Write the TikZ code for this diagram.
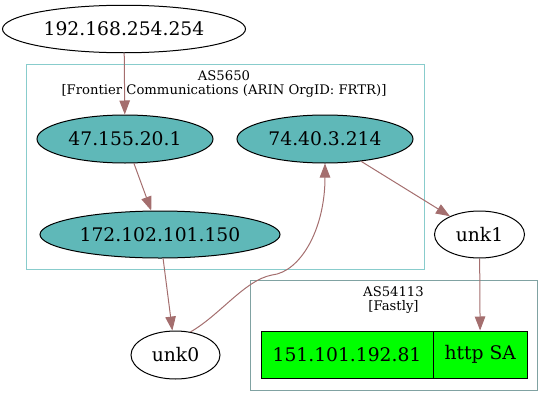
\documentclass[tikz,border=0pt]{standalone}
\usepackage{fontspec}
\setmainfont{DejaVu Serif}
\usetikzlibrary{shapes.geometric,arrows.meta}
\definecolor{edgec}{RGB}{164,110,110}
\definecolor{tealfill}{RGB}{95,184,184}
\definecolor{clusterA}{RGB}{136,204,204}
\definecolor{clusterB}{RGB}{128,162,162}
\definecolor{recgreen}{RGB}{0,255,0}
\tikzset{
  gnode/.style={ellipse,draw=black,line width=1pt,inner sep=0pt,font=\fontsize{18.7}{22}\selectfont},
  asnode/.style={gnode,fill=tealfill},
  recpart/.style={rectangle,draw=black,line width=1pt,fill=recgreen,inner sep=0pt,font=\fontsize{18.7}{22}\selectfont},
  clabel/.style={inner sep=0pt,font=\fontsize{13.2}{15}\selectfont},
  edge/.style={draw=edgec,line width=1pt,-{Triangle[length=14pt,width=10.5pt]}},
}
\begin{document}
\begin{tikzpicture}[x=1pt,y=-1pt]
\useasboundingbox (0,0) rectangle (554,407);
% clusters
\draw[clusterA,line width=1pt] (26.4,64) rectangle (424,269);
\draw[clusterB,line width=1pt] (250,280) rectangle (537.5,390);
\node[clabel] (l1a) at (224,76) {AS5650};
\node[clabel] (l1b) at (224,91) {[Frontier Communications (ARIN OrgID: FRTR)]};
\node[clabel] (l2a) at (393.5,292) {AS54113};
\node[clabel] (l2b) at (393.5,307) {[Fastly]};
% nodes
\node[gnode,minimum width=243pt,minimum height=47.5pt] (n192) at (124,29) {192.168.254.254};
\node[asnode,minimum width=176pt,minimum height=48pt] (n47) at (125,139) {47.155.20.1};
\node[asnode,minimum width=176pt,minimum height=48pt] (n74) at (325,139) {74.40.3.214};
\node[asnode,minimum width=240pt,minimum height=47pt] (n172) at (160,234.5) {172.102.101.150};
\node[gnode,minimum width=90pt,minimum height=47pt] (u1) at (479.5,234.5) {unk1};
\node[gnode,minimum width=89pt,minimum height=48pt] (u0) at (175.5,355) {unk0};
\node[recpart,minimum width=172pt,minimum height=47pt] (rec1) at (347,354.5) {151.101.192.81};
\node[recpart,minimum width=94.5pt,minimum height=47pt] (rec2) at (480.25,354.5) {http SA};
% edges
\draw[edge] (n192) -- (n47);
\draw[edge] (n47) -- (n172);
\draw[edge] (n74) -- (u1);
\draw[edge] (u1) -- (rec2);
\draw[edge] (n172) -- (u0);
\draw[edge] (u0.57) .. controls (220,315) and (245,280) .. (272,275)
  .. controls (300,272) and (325,230) .. (n74);
\end{tikzpicture}
\end{document}
